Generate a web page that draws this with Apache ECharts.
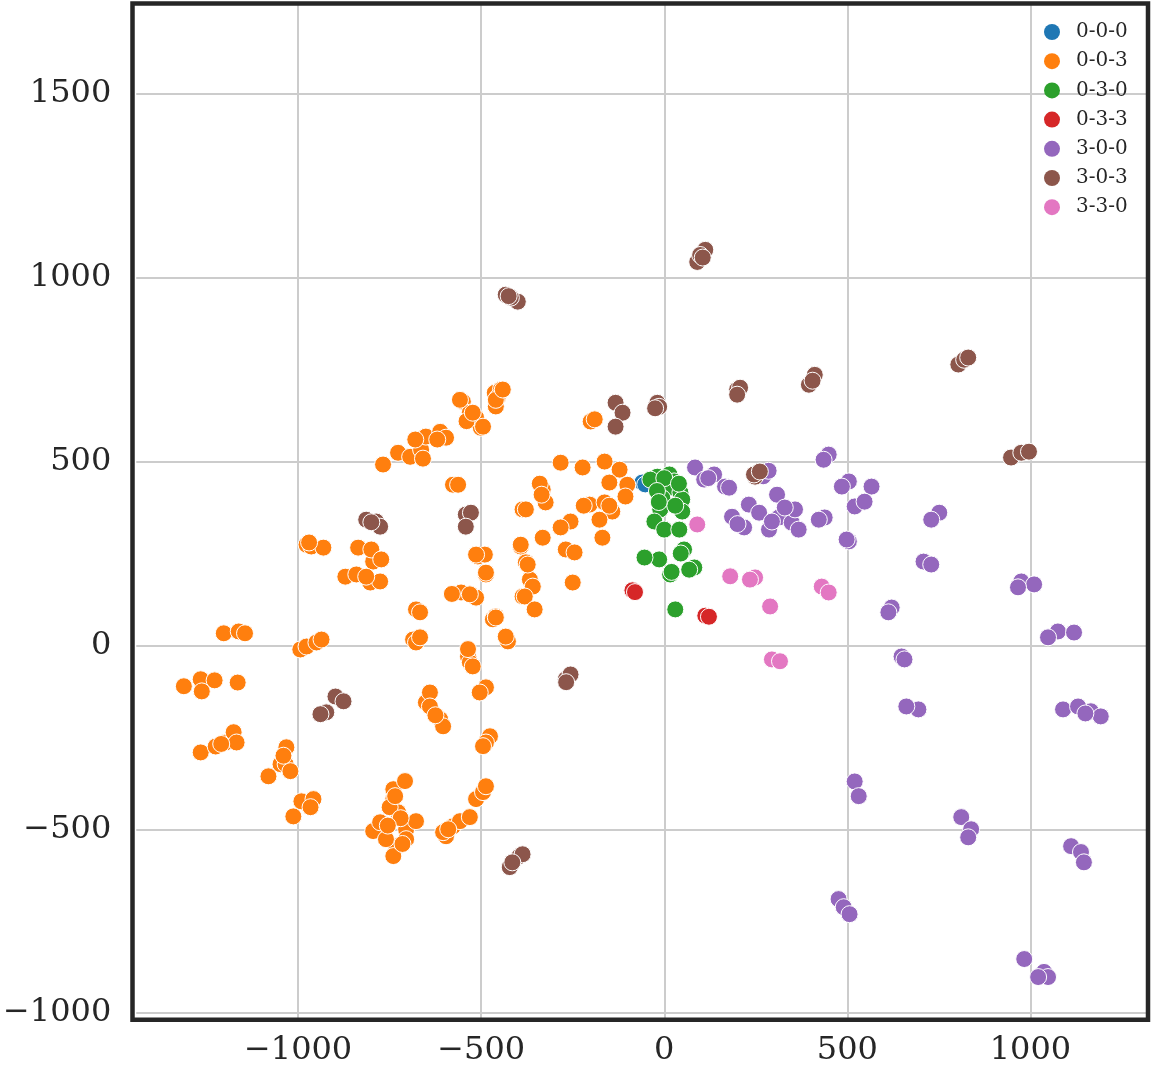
<!DOCTYPE html>
<html style="height: 100%">
<head>
  <meta charset="utf-8">
  <script src="https://cdn.jsdelivr.net/npm/echarts@6/dist/echarts.min.js"></script>
</head>
<body style="height: 100%; margin: 0; background: #fff">
  <div id="container" style="width: 1153px; height: 1069px"></div>
  <script type="text/javascript">
    // group labels and colours (tab10)
    var groups = ['0-0-0', '0-0-3', '0-3-0', '0-3-3', '3-0-0', '3-0-3', '3-3-0'];
    var colors = ['#1f77b4', '#ff7f0e', '#2ca02c', '#d62728', '#9467bd', '#8c564b', '#e377c2'];

    var xTicks = [-1000, -500, 0, 500, 1000];
    var yTicks = [-1000, -500, 0, 500, 1000, 1500];

    // points, [x, y]
    var pts000 = [[-60, 443], [-52, 438]];

    var pts003 = [
      [-1312, -111], [-1266, -92], [-1263, -125], [-1228, -95], [-1165, -101],
      [-1203, 33], [-1162, 38], [-1145, 33],
      [-1266, -291], [-1225, -275], [-1198, -264], [-1176, -236], [-1168, -264], [-1210, -268],
      [-1081, -356], [-1048, -323], [-1034, -323], [-1032, -277], [-1021, -342], [-1040, -300],
      [-1013, -465], [-991, -424], [-958, -418], [-966, -440],
      [-994, -11], [-977, -3], [-950, 8], [-936, 16],
      [-977, 274], [-964, 269], [-931, 266], [-970, 280],
      [-795, -505], [-776, -481], [-740, -391], [-740, -418], [-708, -369], [-727, -454], [-705, -500],
      [-678, -478], [-732, -546], [-740, -573], [-705, -527], [-760, -527], [-750, -440], [-720, -470],
      [-735, -410], [-755, -490], [-715, -540],
      [-596, -519], [-577, -492], [-558, -478], [-531, -467], [-604, -508], [-590, -500],
      [-514, -418], [-495, -399], [-487, -383],
      [-686, 16], [-678, 8], [-667, 22],
      [-678, 98], [-667, 90],
      [-651, -155], [-640, -128], [-612, -201], [-604, -220], [-640, -166], [-625, -190],
      [-536, -30], [-531, -46], [-523, -57], [-536, -10],
      [-487, -114], [-504, -128],
      [-476, -247], [-487, -264], [-495, -274],
      [-427, 11], [-433, 24],
      [-768, 492], [-727, 524], [-694, 513], [-664, 532], [-651, 568], [-612, 581], [-596, 565],
      [-550, 663], [-531, 633], [-501, 592], [-514, 620], [-463, 687], [-446, 696], [-460, 650],
      [-659, 508], [-680, 560], [-620, 560], [-540, 610], [-455, 675],
      [-577, 437], [-563, 437],
      [-836, 266], [-795, 228], [-800, 261], [-773, 234], [-871, 187], [-841, 193], [-803, 171],
      [-776, 174], [-814, 187],
      [-509, 242], [-490, 247], [-487, 193], [-531, 139], [-555, 144], [-514, 130], [-580, 140],
      [-468, 71], [-460, 79],
      [-387, 370], [-392, 269], [-378, 226], [-387, 133], [-367, 179],
      [-558, 668], [-523, 633], [-495, 595], [-460, 668], [-441, 696],
      [-201, 609], [-190, 615],
      [-283, 497], [-223, 484], [-163, 500], [-122, 478], [-150, 443], [-101, 437], [-106, 405],
      [-332, 424], [-324, 389], [-378, 370], [-204, 383], [-163, 389], [-142, 364], [-177, 342],
      [-256, 337], [-169, 293], [-283, 321], [-340, 440], [-220, 380], [-335, 410], [-150, 380],
      [-392, 274], [-332, 293], [-269, 261], [-245, 253],
      [-373, 220], [-487, 198], [-514, 247],
      [-359, 160], [-381, 133], [-354, 98], [-250, 171], [-531, 139],
      [-460, 76]
    ];

    var pts030 = [
      [-19, 459], [14, 465], [27, 446], [-5, 432], [14, 429], [44, 416], [49, 397], [49, 364],
      [-11, 370], [-27, 337], [0, 315], [41, 315], [54, 261], [82, 212], [68, 206], [16, 193],
      [-14, 234], [-54, 239], [30, 98], [-38, 451], [-5, 400], [30, 380], [0, 455], [20, 200],
      [-20, 420], [40, 440], [-15, 390], [45, 250]
    ];

    var pts033 = [[-87, 150], [-80, 145], [112, 81], [122, 78]];

    var pts300 = [
      [84, 484], [109, 451], [136, 465], [166, 432], [177, 429], [120, 455],
      [231, 383], [185, 350], [218, 321], [259, 361], [286, 315], [308, 410], [313, 348], [348, 334],
      [357, 370], [329, 375], [367, 315], [294, 337], [200, 330], [270, 460], [285, 475],
      [438, 348], [422, 342], [449, 519], [435, 505],
      [504, 446], [485, 432], [566, 432], [520, 378], [547, 391], [504, 283], [498, 288],
      [708, 228], [729, 220],
      [621, 103], [612, 90],
      [751, 361], [729, 342],
      [975, 174], [1010, 166], [966, 158],
      [1075, 38], [1119, 35], [1048, 22],
      [648, -30], [656, -38],
      [694, -174], [661, -166],
      [1089, -174], [1165, -179], [1192, -193], [1130, -166], [1150, -185],
      [520, -370], [531, -410],
      [811, -467], [838, -500], [830, -522],
      [1111, -546], [1138, -562], [1146, -590],
      [476, -690], [490, -712], [506, -731],
      [983, -853], [1037, -888], [1048, -902], [1021, -902]
    ];

    var pts303 = [
      [-433, 954], [-400, 935], [-419, 946], [-425, 950],
      [90, 1043], [112, 1076], [98, 1062], [105, 1055],
      [-133, 660], [-114, 633], [-133, 595],
      [-19, 660], [-14, 649], [-25, 645],
      [199, 696], [207, 701], [199, 682],
      [411, 736], [395, 709], [405, 720],
      [803, 764], [819, 777], [830, 783],
      [947, 511], [975, 524], [996, 527],
      [-814, 342], [-787, 337], [-776, 323], [-800, 335],
      [-542, 356], [-528, 361], [-542, 323],
      [-923, -182], [-898, -139], [-876, -152], [-939, -187],
      [-269, -92], [-256, -79], [-268, -100],
      [-422, -603], [-395, -573], [-387, -568], [-415, -590],
      [248, 459], [245, 465], [261, 473]
    ];

    var pts330 = [
      [90, 329], [180, 188], [248, 185], [234, 179], [289, 106], [430, 160], [449, 144],
      [294, -38], [316, -43]
    ];

    var groupData = [pts000, pts003, pts030, pts033, pts300, pts303, pts330];

    var font = 'DejaVu Serif';
    var textColor = '#262626';

    function fmt(v) {
      return String(v).replace('-', '\u2212');
    }

    var dom = document.getElementById('container');
    var myChart = echarts.init(dom, null, { renderer: 'canvas' });

    var series = groups.map(function (name, i) {
      return {
        name: name,
        type: 'scatter',
        symbol: 'circle',
        symbolSize: 17,
        animation: false,
        itemStyle: { color: colors[i], borderColor: '#ffffff', borderWidth: 1, opacity: 1 },
        data: groupData[i]
      };
    });

    var option = {
      backgroundColor: '#ffffff',
      animation: false,
      grid: { left: 132.5, right: 5, top: 3.5, bottom: 49.3, containLabel: false },
      legend: {
        orient: 'vertical',
        left: 1039,
        top: 17,
        icon: 'circle',
        itemWidth: 30,
        itemHeight: 16,
        itemGap: 9.2,
        data: groups,
        itemStyle: { borderWidth: 0 },
        textStyle: { fontFamily: font, fontSize: 20, lineHeight: 20, color: textColor, padding: [0, 0, 0, 4] }
      },
      xAxis: {
        type: 'value',
        min: -1442,
        max: 1321,
        axisLine: { show: false },
        axisTick: { show: false, customValues: xTicks },
        axisLabel: {
          customValues: xTicks,
          margin: 15,
          fontFamily: font,
          fontSize: 32,
          color: textColor,
          formatter: fmt
        },
        splitLine: { show: true, lineStyle: { color: '#cccccc', width: 2 } }
      },
      yAxis: {
        type: 'value',
        min: -1018,
        max: 1746,
        axisLine: { show: false },
        axisTick: { show: false, customValues: yTicks },
        axisLabel: {
          customValues: yTicks,
          margin: 25,
          fontFamily: font,
          fontSize: 32,
          color: textColor,
          padding: [6, 0, 0, 0],
          formatter: fmt
        },
        splitLine: { show: true, lineStyle: { color: '#cccccc', width: 2 } }
      },
      graphic: [{
        type: 'rect',
        z: 100,
        silent: true,
        shape: { x: 132.5, y: 3.5, width: 1148 - 132.5, height: 1019.7 - 3.5 },
        style: { fill: null, stroke: '#262626', lineWidth: 4.5 }
      }],
      series: series
    };

    myChart.setOption(option, true);
  </script>
</body>
</html>
